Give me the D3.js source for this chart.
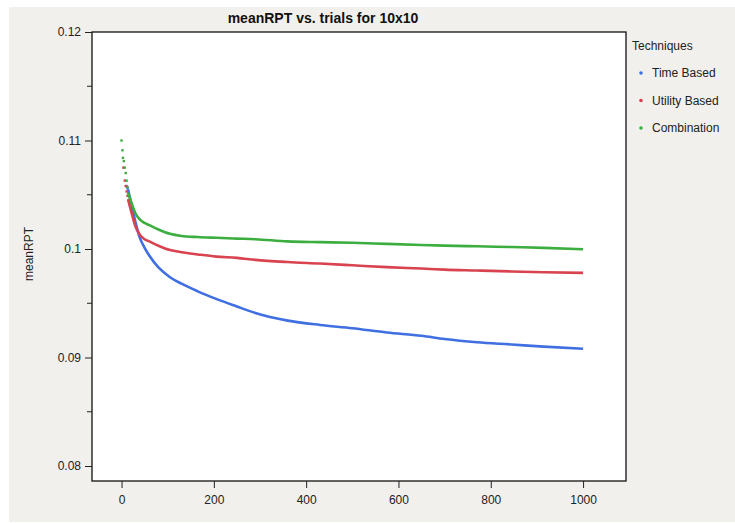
<!DOCTYPE html>
<html>
<head>
<meta charset="utf-8">
<script src="https://cdn.jsdelivr.net/npm/d3@7"></script>
<style>
  body { margin: 0; background: #fff; }
  svg { display: block; font-family: "Liberation Sans", Arial, sans-serif; }
</style>
</head>
<body>
<svg id="chart" width="735" height="523"></svg>
<script>
// trials sampled along the curves
var trials = [14, 22, 30, 40, 50, 60, 80, 105, 130, 165, 205, 250, 290, 360, 430, 500, 575, 650, 700, 770, 845, 915, 1000];

var timeBased    = [0.1055, 0.1040, 0.1025, 0.1010, 0.1001, 0.0994, 0.0983, 0.0974, 0.0968, 0.0961, 0.0954, 0.0947, 0.0941, 0.0934, 0.0930, 0.0927, 0.0923, 0.0920, 0.0917, 0.0914, 0.0912, 0.0910, 0.0908];
var utilityBased = [0.1046, 0.1033, 0.1021, 0.1013, 0.1009, 0.1007, 0.1003, 0.0999, 0.0997, 0.0995, 0.0993, 0.09918, 0.0990, 0.0988, 0.09866, 0.0985, 0.09833, 0.0982, 0.0981, 0.09802, 0.09793, 0.09786, 0.0978];
var combination  = [0.1052, 0.1042, 0.1033, 0.1027, 0.1024, 0.1022, 0.1018, 0.1014, 0.1012, 0.1011, 0.10103, 0.10096, 0.1009, 0.1007, 0.10063, 0.10057, 0.10047, 0.10037, 0.10031, 0.10025, 0.10018, 0.1001, 0.09998];

// scattered first trials
var earlyTrials = {
  blue:  [11, 13],
  red:   [4, 7, 9, 11, 13],
  green: [0, 2, 3, 5, 7, 9, 11, 13]
};
var earlyValues = {
  blue:  [0.1058, 0.1056],
  red:   [0.1075, 0.1063, 0.1058, 0.1053, 0.1049],
  green: [0.1100, 0.1091, 0.1084, 0.1081, 0.1075, 0.1070, 0.1063, 0.1057]
};

var techniques = ["Time Based", "Utility Based", "Combination"];
var colors = ["#3f6fe0", "#d8434f", "#3cae3f"];
var keys = ["blue", "red", "green"];

var xTicks = [0, 200, 400, 600, 800, 1000];
var yTicks = [0.08, 0.09, 0.1, 0.11, 0.12];
var yMinor = [0.085, 0.095, 0.105, 0.115];

var svg = d3.select("#chart");

// backdrop
svg.append("rect").attr("x", 9).attr("y", 7).attr("width", 726).attr("height", 515).attr("fill", "#f1f0ed");

var frame = { left: 92, top: 32, right: 626, bottom: 481 };

svg.append("rect")
  .attr("x", frame.left).attr("y", frame.top)
  .attr("width", frame.right - frame.left).attr("height", frame.bottom - frame.top)
  .attr("fill", "#fff").attr("stroke", "#111").attr("stroke-width", 1.3);

var x = d3.scaleLinear().domain([-64, 1093]).range([frame.left, frame.right]);
var y = d3.scaleLinear().domain([0.08, 0.12]).range([466, 32]);

// y axis
var yAxis = svg.append("g").attr("transform", "translate(" + frame.left + ",0)")
  .call(d3.axisLeft(y).tickValues(yTicks).tickSize(7).tickFormat(function (d) { return d3.format("")(+d.toFixed(2)); }));
yAxis.select(".domain").remove();
yAxis.selectAll("text").attr("font-size", 12).attr("fill", "#222").attr("font-family", "Liberation Sans, Arial, sans-serif").attr("dx", -1);
yAxis.selectAll("line").attr("stroke", "#222");

svg.append("g").selectAll("line").data(yMinor).enter().append("line")
  .attr("x1", frame.left - 5).attr("x2", frame.left)
  .attr("y1", function (d) { return y(d); }).attr("y2", function (d) { return y(d); })
  .attr("stroke", "#222");

// x axis
var xAxis = svg.append("g").attr("transform", "translate(0," + frame.bottom + ")")
  .call(d3.axisBottom(x).tickValues(xTicks).tickSize(7).tickFormat(d3.format("d")));
xAxis.select(".domain").remove();
xAxis.selectAll("text").attr("font-size", 12).attr("fill", "#222").attr("font-family", "Liberation Sans, Arial, sans-serif").attr("dy", "1.05em");
xAxis.selectAll("line").attr("stroke", "#222");

// series
var series = [timeBased, utilityBased, combination];
var line = d3.line()
  .x(function (d) { return x(d[0]); })
  .y(function (d) { return y(d[1]); })
  .curve(d3.curveMonotoneX);

series.forEach(function (vals, i) {
  var pts = trials.map(function (t, j) { return [t, vals[j]]; });
  var k = keys[i];
  svg.append("g").selectAll("rect").data(earlyTrials[k]).enter().append("rect")
    .attr("x", function (t) { return x(t) - 1.2; })
    .attr("y", function (t, j) { return y(earlyValues[k][j]) - 1.2; })
    .attr("width", 2.4).attr("height", 2.4)
    .attr("fill", colors[i]);
  svg.append("path").datum(pts)
    .attr("d", line)
    .attr("fill", "none")
    .attr("stroke", colors[i])
    .attr("stroke-width", 2.6);
});

// title and labels
svg.append("text").attr("x", 323).attr("y", 23).attr("text-anchor", "middle")
  .attr("font-size", 14).attr("font-weight", "bold").attr("fill", "#111")
  .text("meanRPT vs. trials for 10x10");

svg.append("text").attr("transform", "translate(33,254) rotate(-90)").attr("text-anchor", "middle")
  .attr("font-size", 12).attr("fill", "#222").text("meanRPT");

// legend
var legend = svg.append("g");
legend.append("text").attr("x", 632).attr("y", 50).attr("font-size", 12).attr("fill", "#222").text("Techniques");
techniques.forEach(function (name, i) {
  var ly = 73 + i * 27.5;
  legend.append("circle").attr("cx", 641).attr("cy", ly).attr("r", 1.8).attr("fill", colors[i]);
  legend.append("text").attr("x", 652).attr("y", ly + 4).attr("font-size", 12).attr("fill", "#222").text(name);
});
</script>
</body>
</html>
